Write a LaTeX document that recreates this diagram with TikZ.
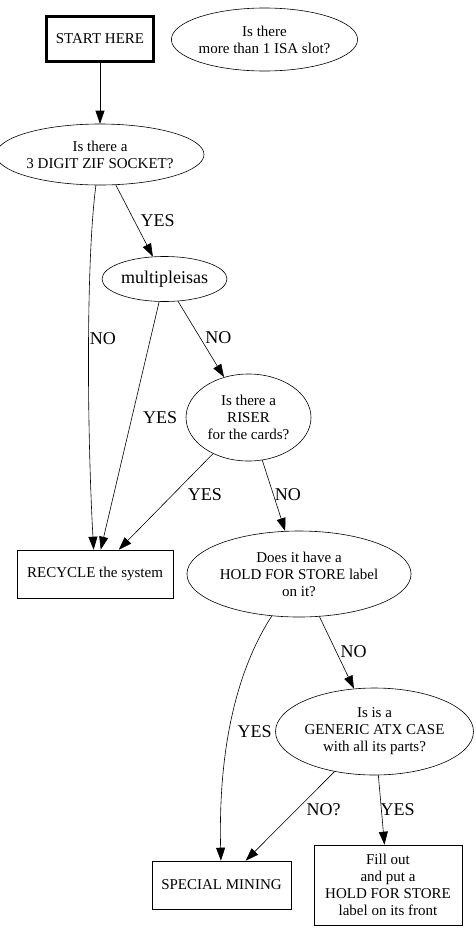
\documentclass[tikz,border=0pt]{standalone}
\usepackage{fontspec}
\setmainfont{Liberation Serif}
\usetikzlibrary{shapes.geometric,arrows.meta}
\begin{document}
\begin{tikzpicture}[x=1pt, y=-1pt,
  box/.style={draw, line width=0.6pt, inner sep=0pt, align=center,
    font=\fontsize{15}{17}\selectfont},
  question/.style={ellipse, draw, line width=0.6pt, inner sep=0pt,
    align=center, font=\fontsize{15}{17}\selectfont},
  link/.style={-{Triangle[length=13pt,width=9pt]}, line width=0.6pt},
  answer/.style={font=\fontsize{18}{20}\selectfont, inner sep=0pt}]
  \useasboundingbox (0,0) rectangle (475,932);

  % Start and the loose question
  \node[box, line width=3pt, minimum width=107pt, minimum height=45pt]
    (start) at (100,39) {START HERE};
  \node[question, minimum width=169pt, minimum height=63pt]
    (isa) at (264.5,39.5) {Is there\\more than 1 ISA slot?};

  % Questions
  \node[question, minimum width=184pt, minimum height=61pt]
    (zif) at (100,154.5) {Is there a\\3 DIGIT ZIF SOCKET?};
  \node[question, minimum width=125pt, minimum height=45pt,
    font=\fontsize{18}{20}\selectfont] (multi) at (164.5,279) {multipleisas};
  \node[question, minimum width=125pt, minimum height=87pt]
    (riser) at (248.5,417.5) {Is there a\\RISER\\for the cards?};
  \node[question, minimum width=204pt, minimum height=86pt]
    (hold) at (299,574) {Does it have a\\HOLD FOR STORE label\\on it?};
  \node[question, minimum width=185pt, minimum height=87pt]
    (atx) at (374.5,731.5) {Is is a\\GENERIC ATX CASE\\with all its parts?};

  % Outcomes
  \node[box, minimum width=156pt, minimum height=48pt]
    (recycle) at (95,574) {RECYCLE the system};
  \node[box, minimum width=139pt, minimum height=48pt]
    (special) at (221.5,885) {SPECIAL MINING};
  \node[box, minimum width=148pt, minimum height=80pt]
    (fill) at (388,885) {Fill out\\and put a\\HOLD FOR STORE\\label on its front};

  % Answers
  \draw[link] (start) -- (zif);
  \draw[link] (zif) -- (multi) node[answer, pos=0.5, right=6pt] {YES};
  \draw[link] (zif) .. controls (86,260) and (87,430) .. (recycle)
    node[answer, pos=0.47, right=1pt] {NO};
  \draw[link] (multi) -- (recycle) node[answer, pos=0.466, right=11pt] {YES};
  \draw[link] (multi) -- (riser) node[answer, pos=0.48, right=5pt] {NO};
  \draw[link] (riser) -- (recycle) node[answer, pos=0.43, right=15pt] {YES};
  \draw[link] (riser) -- (hold) node[answer, pos=0.49, right=1pt] {NO};
  \draw[link] (hold) .. controls (240,665) and (218,740) .. (special)
    node[answer, pos=0.58, right=8pt] {YES};
  \draw[link] (hold) -- (atx) node[answer, pos=0.49, right=4pt] {NO};
  \draw[link] (atx) -- (special) node[answer, pos=0.43, right=10pt] {NO?};
  \draw[link] (atx) -- (fill) node[answer, pos=0.5, right=-1pt] {YES};
\end{tikzpicture}
\end{document}
